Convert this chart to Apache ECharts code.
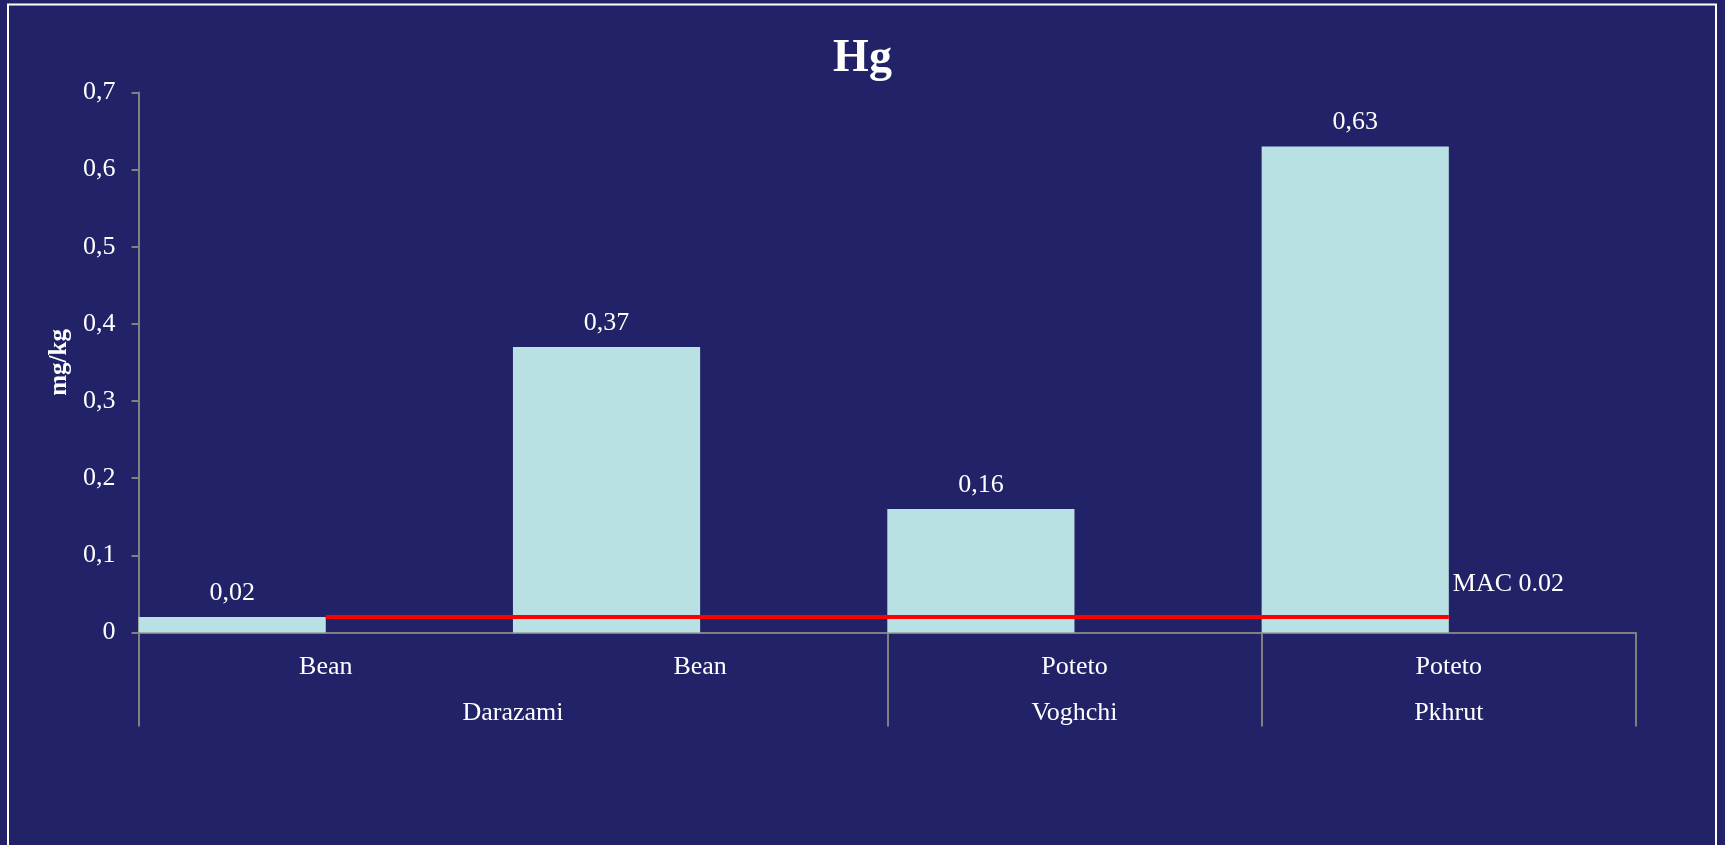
<!DOCTYPE html>
<html>
<head>
<meta charset="utf-8">
<title>Hg</title>
<script src="https://cdn.jsdelivr.net/npm/echarts@6/dist/echarts.min.js"></script>
<style>
  html, body { margin: 0; padding: 0; background: #222268; }
  #chart { width: 1725px; height: 845px; }
</style>
</head>
<body>
<div id="chart"></div>
<script>
// Mercury content per sample (mg/kg)
const crops = ['Bean', 'Bean', 'Poteto', 'Poteto'];
const hgValues = [0.02, 0.37, 0.16, 0.63];
// Maximum allowable concentration, drawn as a reference line
const macValues = [0.02, 0.02, 0.02, 0.02];
const macLabel = 'MAC 0.02';
// Villages, each spanning a number of samples
const villages = ['Darazami', 'Voghchi', 'Pkhrut'];
const villageSpans = [2, 1, 1];
const yTicks = [0, 0.1, 0.2, 0.3, 0.4, 0.5, 0.6, 0.7];

const FONT = "'Liberation Serif', 'Times New Roman', serif";
const AXIS_GREY = '#808080';

// Second-level axis: half-category slots, village names sit at the middle of their span,
// separator ticks at the span boundaries.
const slotCount = crops.length * 2 + 1;
const villageSlots = new Array(slotCount).fill('');
const boundarySlots = [0];
let pos = 0;
villages.forEach((v, i) => {
  villageSlots[pos * 2 + villageSpans[i]] = v;
  pos += villageSpans[i];
  boundarySlots.push(pos * 2);
});

const fmtComma = v => (v === 0 ? '0' : String(+v.toFixed(2)).replace('.', ','));

const chart = echarts.init(document.getElementById('chart'), null, { renderer: 'canvas' });
chart.setOption({
  backgroundColor: '#222268',
  animation: false,
  title: {
    text: 'Hg',
    left: 'center',
    top: 31,
    textStyle: { color: '#ffffff', fontFamily: FONT, fontWeight: 'bold', fontSize: 46 }
  },
  graphic: [{
    type: 'rect',
    shape: { x: 8, y: 4.5, width: 1708, height: 900 },
    style: { fill: 'none', stroke: '#ffffff', lineWidth: 2 },
    silent: true
  }],
  grid: { left: 138.6, right: 89, top: 92.4, bottom: 212.5 },
  xAxis: [{
    type: 'category',
    data: crops,
    position: 'bottom',
    axisLine: { lineStyle: { color: AXIS_GREY, width: 2 } },
    axisTick: { show: false },
    axisLabel: { color: '#ffffff', fontFamily: FONT, fontSize: 26, margin: 22, interval: 0 }
  }, {
    type: 'category',
    data: villageSlots,
    position: 'bottom',
    boundaryGap: false,
    axisLine: { show: false },
    axisTick: {
      show: true,
      length: 94,
      interval: idx => boundarySlots.indexOf(idx) >= 0,
      lineStyle: { color: AXIS_GREY, width: 2 }
    },
    axisLabel: { color: '#ffffff', fontFamily: FONT, fontSize: 26, margin: 68, interval: 0 }
  }],
  yAxis: {
    type: 'value',
    min: yTicks[0],
    max: yTicks[yTicks.length - 1],
    interval: 0.1,
    name: 'mg/kg',
    nameLocation: 'middle',
    nameGap: 62,
    nameTextStyle: { color: '#ffffff', fontFamily: FONT, fontWeight: 'bold', fontSize: 25 },
    axisLine: { show: true, lineStyle: { color: AXIS_GREY, width: 2 } },
    axisTick: { show: true, length: 7, lineStyle: { color: AXIS_GREY, width: 2 } },
    splitLine: { show: false },
    axisLabel: {
      color: '#ffffff', fontFamily: FONT, fontSize: 26, margin: 23,
      padding: [4, 0, 0, 0], formatter: fmtComma
    }
  },
  series: [{
    name: 'Hg',
    type: 'bar',
    data: hgValues,
    barGap: '0%',
    barCategoryGap: '0%',
    itemStyle: { color: '#B9E0E3' },
    label: {
      show: true,
      position: 'top',
      distance: 11,
      color: '#ffffff',
      fontFamily: FONT,
      fontSize: 26,
      formatter: p => fmtComma(p.value)
    },
    z: 2
  }, {
    name: 'spacer',
    type: 'bar',
    data: crops.map(() => null),
    barGap: '0%',
    barCategoryGap: '0%',
    itemStyle: { color: 'transparent' }
  }, {
    name: 'MAC',
    type: 'line',
    data: macValues,
    symbol: 'none',
    lineStyle: { color: '#FF0000', width: 4 },
    itemStyle: { color: '#FF0000' },
    endLabel: {
      show: true,
      distance: 4,
      offset: [0, -33],
      formatter: macLabel,
      color: '#ffffff',
      fontFamily: FONT,
      fontSize: 26
    },
    z: 5
  }]
});
</script>
</body>
</html>
